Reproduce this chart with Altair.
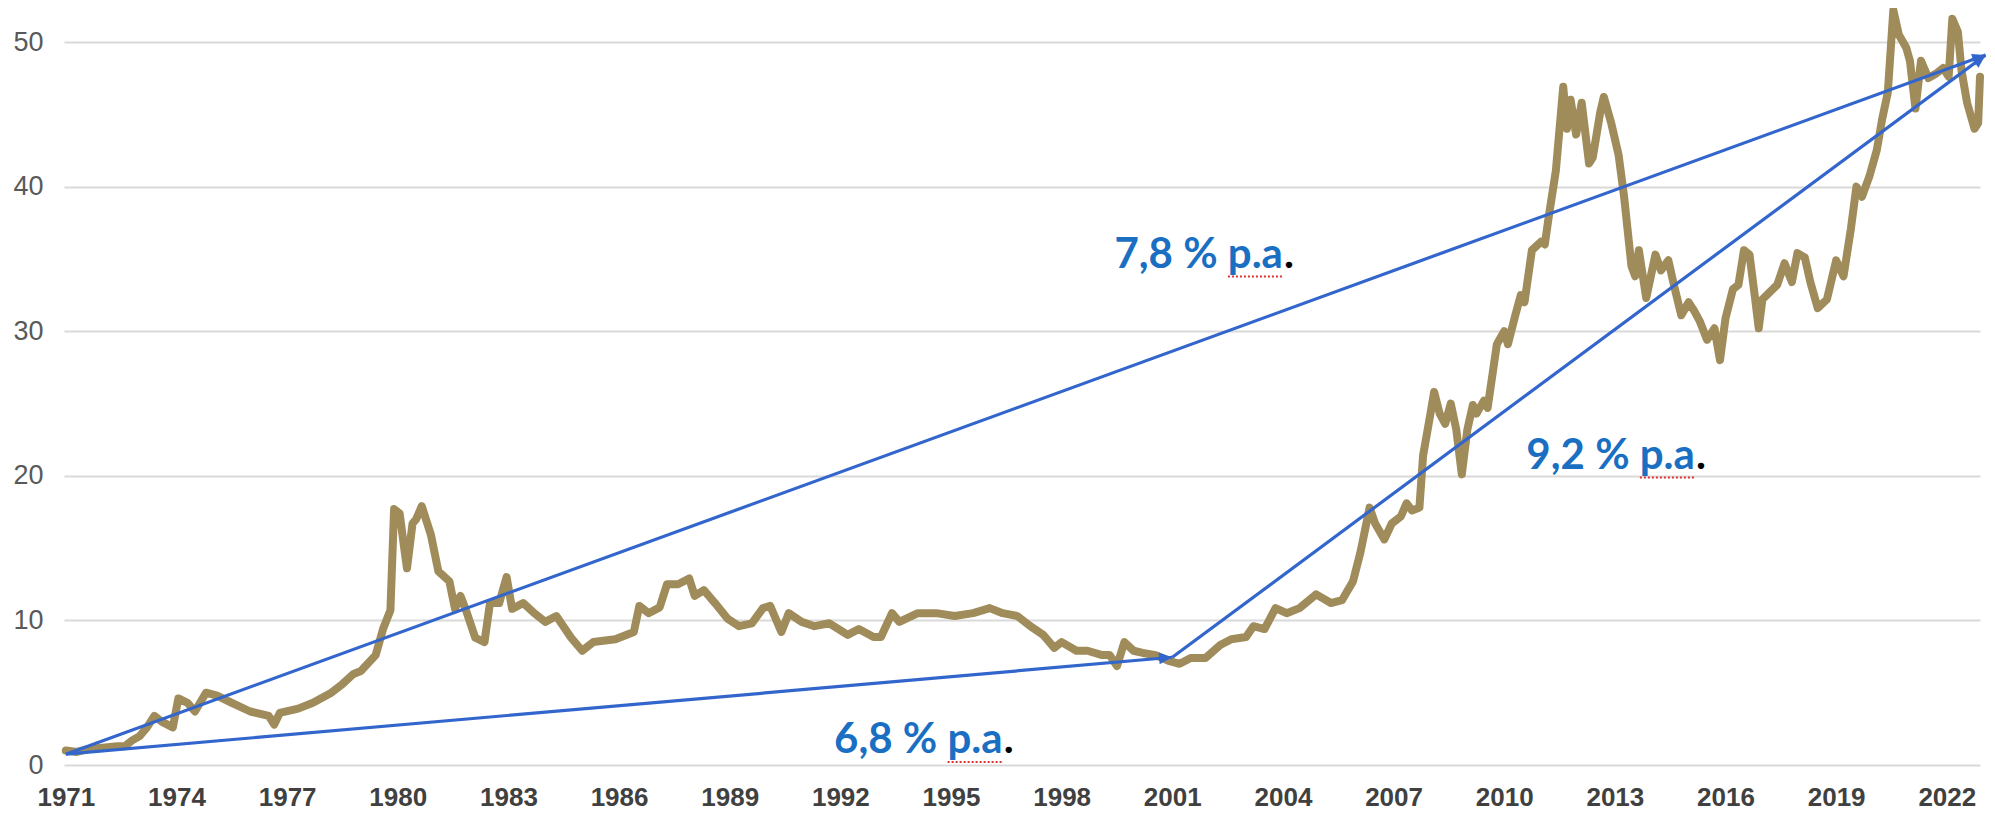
import math
import altair as alt
import pandas as pd

# ---- data ----
years = [
    1971.0, 1971.3, 1971.6, 1972.0, 1972.4, 1972.6, 1972.8, 1973.0, 1973.2, 1973.4,
    1973.6, 1973.9, 1974.05, 1974.3, 1974.5, 1974.8, 1975.1, 1975.5, 1976.0, 1976.5,
    1976.65, 1976.8, 1977.3, 1977.7, 1978.2, 1978.5, 1978.8, 1979.0, 1979.4, 1979.6,
    1979.8, 1979.9, 1980.05, 1980.2, 1980.25, 1980.4, 1980.5, 1980.65, 1980.9, 1981.1,
    1981.4, 1981.55, 1981.7, 1981.85, 1982.1, 1982.35, 1982.5, 1982.75, 1982.95, 1983.1,
    1983.4, 1983.7, 1984.0, 1984.3, 1984.7, 1985.0, 1985.3, 1985.9, 1986.4, 1986.55,
    1986.8, 1987.1, 1987.3, 1987.6, 1987.9, 1988.05, 1988.3, 1988.6, 1988.95, 1989.25,
    1989.6, 1989.9, 1990.1, 1990.4, 1990.6, 1990.95, 1991.3, 1991.7, 1992.2, 1992.5,
    1992.9, 1993.1, 1993.4, 1993.6, 1994.1, 1994.6, 1995.1, 1995.6, 1996.05, 1996.4,
    1996.8, 1997.15, 1997.5, 1997.8, 1998.0, 1998.4, 1998.7, 1999.1, 1999.3, 1999.5,
    1999.7, 1999.95, 2000.2, 2000.55, 2000.9, 2001.2, 2001.5, 2001.9, 2002.3, 2002.6,
    2003.0, 2003.2, 2003.5, 2003.8, 2004.1, 2004.45, 2004.9, 2005.3, 2005.6, 2005.9,
    2006.1, 2006.35, 2006.5, 2006.75, 2006.95, 2007.2, 2007.35, 2007.5, 2007.7, 2007.8,
    2008.0, 2008.1, 2008.25, 2008.4, 2008.55, 2008.7, 2008.85, 2009.0, 2009.15, 2009.25,
    2009.45, 2009.55, 2009.8, 2010.0, 2010.1, 2010.3, 2010.45, 2010.55, 2010.75, 2011.0,
    2011.1, 2011.2, 2011.4, 2011.6, 2011.7, 2011.8, 2011.95, 2012.1, 2012.3, 2012.4,
    2012.6, 2012.7, 2012.9, 2013.1, 2013.25, 2013.45, 2013.55, 2013.65, 2013.85, 2014.1,
    2014.25, 2014.45, 2014.6, 2014.8, 2015.0, 2015.15, 2015.3, 2015.5, 2015.7, 2015.85,
    2016.0, 2016.2, 2016.35, 2016.5, 2016.65, 2016.8, 2016.9, 2017.0, 2017.2, 2017.4,
    2017.6, 2017.8, 2017.95, 2018.15, 2018.3, 2018.5, 2018.75, 2019.0, 2019.2, 2019.4,
    2019.55, 2019.7, 2019.9, 2020.1, 2020.25, 2020.4, 2020.55, 2020.7, 2020.9, 2021.0,
    2021.15, 2021.3, 2021.5, 2021.7, 2021.9, 2022.05, 2022.15, 2022.3, 2022.4, 2022.55,
    2022.75, 2022.85, 2022.9,
]
values = [
    1.0, 0.9, 1.1, 1.2, 1.3, 1.3, 1.7, 2.0, 2.6, 3.4,
    3.0, 2.6, 4.6, 4.3, 3.7, 5.0, 4.8, 4.3, 3.7, 3.4,
    2.8, 3.6, 3.9, 4.3, 5.0, 5.6, 6.3, 6.5, 7.6, 9.4,
    10.7, 17.7, 17.4, 14.5, 13.6, 16.7, 17.0, 17.9, 15.9, 13.4,
    12.7, 10.8, 11.7, 10.7, 8.8, 8.5, 11.2, 11.2, 13.0, 10.8,
    11.2, 10.5, 9.9, 10.3, 8.8, 7.9, 8.5, 8.7, 9.2, 11.0,
    10.5, 10.9, 12.5, 12.5, 12.9, 11.7, 12.1, 11.2, 10.1, 9.6,
    9.8, 10.85, 11.0, 9.2, 10.5, 9.9, 9.6, 9.8, 9.0, 9.4,
    8.85, 8.85, 10.5, 9.9, 10.5, 10.5, 10.3, 10.5, 10.85, 10.5,
    10.3, 9.6, 9.0, 8.1, 8.5, 7.9, 7.9, 7.6, 7.6, 6.85,
    8.5, 7.9, 7.75, 7.6, 7.2, 7.0, 7.4, 7.4, 8.3, 8.7,
    8.85, 9.6, 9.4, 10.85, 10.5, 10.85, 11.8, 11.2, 11.4, 12.7,
    14.7, 17.8, 16.7, 15.6, 16.7, 17.2, 18.1, 17.6, 17.8, 21.4,
    24.3, 25.8, 24.3, 23.6, 25.0, 23.2, 20.1, 23.2, 24.9, 24.3,
    25.2, 24.7, 29.1, 30.0, 29.1, 31.1, 32.5, 32.0, 35.6, 36.2,
    36.0, 37.8, 41.1, 46.9, 44.0, 46.0, 43.6, 45.8, 41.6, 42.0,
    45.1, 46.2, 44.4, 42.2, 39.3, 34.5, 33.8, 35.6, 32.3, 35.3,
    34.2, 34.9, 33.2, 31.1, 32.0, 31.4, 30.7, 29.4, 30.2, 28.0,
    30.9, 32.9, 33.2, 35.6, 35.3, 32.3, 30.2, 32.2, 32.7, 33.2,
    34.7, 33.4, 35.4, 35.1, 33.4, 31.6, 32.2, 34.9, 33.8, 37.1,
    40.0, 39.3, 40.7, 42.5, 44.7, 46.5, 52.2, 50.5, 49.6, 48.7,
    45.4, 48.7, 47.5, 47.8, 48.2, 47.6, 51.6, 50.7, 48.0, 45.8,
    44.0, 44.4, 47.6,
]

x_tick_values = list(range(1971, 2023, 3))
y_tick_values = [0, 10, 20, 30, 40, 50]

arrow_from_year = [1971.0, 1971.0, 2001.0]
arrow_from_value = [0.75, 0.75, 7.45]
arrow_to_year = [2023.05, 2001.0, 2023.05]
arrow_to_value = [49.1, 7.45, 49.1]

# growth labels: text, right edge (year) and baseline (value)
label_texts = ["7,8 % p.a", "6,8 % p.a", "9,2 % p.a"]
label_end_year = [2004.0, 1996.4, 2015.17]
label_value = [34.4, 0.83, 20.5]

# ---- layout ----
X_DOMAIN = [1970.95, 2022.9]
Y_DOMAIN = [0, 50]
W, H = 1916, 723
PAD = {"left": 56, "top": 34, "right": 6, "bottom": 50}

GOLD = "#A08C5A"
BLUE = "#3366CC"
LABEL_BLUE = "#1A6FC3"
AXIS_FONT = "Liberation Sans, Arial, sans-serif"
LABEL_FONT = "Lato, Liberation Sans, sans-serif"
LABEL_SIZE = 42

px_year = W / (X_DOMAIN[1] - X_DOMAIN[0])
px_val = H / (Y_DOMAIN[1] - Y_DOMAIN[0])

gold = pd.DataFrame({"year": years, "value": values})
arrows = pd.DataFrame({
    "x1": arrow_from_year, "y1": arrow_from_value,
    "x2": arrow_to_year, "y2": arrow_to_value,
})
arrows["angle"] = [
    (360 - math.degrees(math.atan2((b2 - b1) * px_val, (a2 - a1) * px_year))) % 360
    for a1, b1, a2, b2 in zip(arrow_from_year, arrow_from_value, arrow_to_year, arrow_to_value)
]
labels = pd.DataFrame({"text": label_texts, "year": label_end_year, "value": label_value})
# red spell-check squiggle under "p.a" (width of "p.a" in the label font)
squig_w = 1.31 * LABEL_SIZE / px_year
labels["sq1"] = labels["year"] - squig_w
labels["sqy"] = labels["value"] - 9 / px_val

xs = alt.Scale(domain=X_DOMAIN, nice=False, zero=False)
ys = alt.Scale(domain=Y_DOMAIN, nice=False, zero=True)

base_x = alt.X(
    "year:Q", scale=xs, title=None,
    axis=alt.Axis(values=x_tick_values, format="d", grid=False, domain=False, ticks=False,
                  labelFont=AXIS_FONT, labelFontSize=26, labelColor="#404040", labelFontWeight="bold",
                  labelBaseline="alphabetic", labelPadding=40, labelFlush=False, labelOverlap=False),
)
base_y = alt.Y(
    "value:Q", scale=ys, title=None,
    axis=alt.Axis(values=y_tick_values, grid=True, gridColor="#D9D9D9", gridWidth=2,
                  domain=False, ticks=False, labelFont=AXIS_FONT, labelFontSize=27,
                  labelColor="#595959", labelPadding=21),
)

gold_line = alt.Chart(gold).mark_line(
    color=GOLD, strokeWidth=8, strokeJoin="round", strokeCap="round"
).encode(x=base_x, y=base_y)

arrow_lines = alt.Chart(arrows).mark_rule(color=BLUE, strokeWidth=3.2).encode(
    x=alt.X("x1:Q", scale=xs), y=alt.Y("y1:Q", scale=ys),
    x2="x2:Q", y2="y2:Q",
)
arrow_heads = alt.Chart(arrows).mark_point(
    shape="M0,0L-1,-0.45L-1,0.45Z", filled=True, opacity=1, color=BLUE, size=700
).encode(
    x=alt.X("x2:Q", scale=xs), y=alt.Y("y2:Q", scale=ys),
    angle=alt.Angle("angle:Q", scale=None),
)

squiggles = alt.Chart(labels).mark_rule(
    color="#E03030", strokeWidth=2, strokeDash=[2, 2]
).encode(x=alt.X("sq1:Q", scale=xs), x2="year:Q", y=alt.Y("sqy:Q", scale=ys))

label_marks = alt.Chart(labels).mark_text(
    font=LABEL_FONT, fontSize=LABEL_SIZE, fontWeight="bold", color=LABEL_BLUE,
    align="right", baseline="alphabetic",
).encode(x=alt.X("year:Q", scale=xs), y=alt.Y("value:Q", scale=ys), text="text:N")

dot_marks = alt.Chart(labels).mark_text(
    font=LABEL_FONT, fontSize=LABEL_SIZE, fontWeight="bold", color="#000000",
    align="left", baseline="alphabetic", dx=1,
).encode(x=alt.X("year:Q", scale=xs), y=alt.Y("value:Q", scale=ys), text=alt.value("."))

chart = alt.layer(gold_line, arrow_lines, arrow_heads, squiggles, label_marks, dot_marks).properties(
    width=W, height=H,
    autosize=alt.AutoSizeParams(type="none"),
    padding=PAD,
    background="white",
).configure_view(stroke=None)

chart.save("out.html", embed_options={"renderer": "svg", "actions": False})
